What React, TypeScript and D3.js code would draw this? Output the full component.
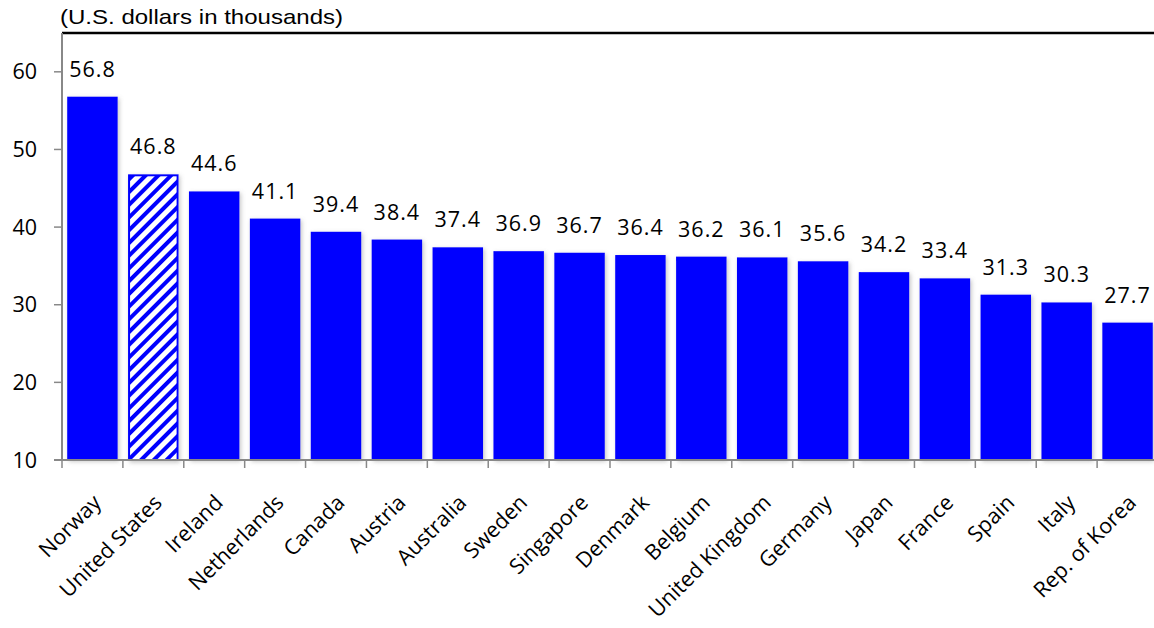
import React from "react";
import * as d3 from "d3";

const categories = ["Norway","United States","Ireland","Netherlands","Canada","Austria","Australia","Sweden","Singapore","Denmark","Belgium","United Kingdom","Germany","Japan","France","Spain","Italy","Rep. of Korea"];
const values = [56.8,46.8,44.6,41.1,39.4,38.4,37.4,36.9,36.7,36.4,36.2,36.1,35.6,34.2,33.4,31.3,30.3,27.7];
const highlighted = ["United States"];
const yTicks = [10,20,30,40,50,60];
const yDomain = [10,65];
const unitLabel = "(U.S. dollars in thousands)";

const W = 1154, H = 628;
const left = 62, right = 1158, top = 33, bottom = 460;
const font = "'Open Sans', sans-serif";

export default function App() {
  const x = d3.scaleBand<string>().domain(categories).range([left, right]).paddingInner(0.17).paddingOuter(0.085);
  const y = d3.scaleLinear().domain(yDomain).range([bottom, top]);
  const step = x.step();
  return (
    <svg width={W} height={H} style={{ position: "absolute", left: 0, top: 0, background: "#fff" }}>
      <defs>
        <pattern id="hatch" patternUnits="userSpaceOnUse" width="9" height="9" patternTransform="rotate(45)">
          <rect width="9" height="9" fill="#fff" />
          <rect x="0" y="0" width="4" height="9" fill="#0000ff" />
        </pattern>
        <filter id="shadow" x="-20%" y="-5%" width="140%" height="110%">
          <feDropShadow dx="1.5" dy="1.5" stdDeviation="2" floodColor="#808080" floodOpacity="0.45" />
        </filter>
      </defs>
      <text x={60} y={24} fontFamily="'Liberation Sans', Arial, sans-serif" fontSize={21} textLength={283} lengthAdjust="spacingAndGlyphs" fill="#000">{unitLabel}</text>
      <line x1={left} x2={W} y1={top} y2={top} stroke="#000" strokeWidth={2.5} />
      {categories.map((c, i) => {
        const v = values[i];
        const bx = x(c)!;
        const bw = x.bandwidth();
        const isH = highlighted.includes(c);
        return (
          <g key={c}>
            {isH ? (
              <rect x={bx + 1} y={y(v) + 1} width={bw - 2} height={bottom - y(v) - 1} fill="url(#hatch)" stroke="#0000ff" strokeWidth={2} filter="url(#shadow)" />
            ) : (
              <rect x={bx} y={y(v)} width={bw} height={bottom - y(v)} fill="#0000ff" filter="url(#shadow)" />
            )}
            <text x={bx + bw / 2} y={y(v) - 20} textAnchor="middle" fontFamily={font} fontSize={21.5} letterSpacing={1} fill="#000">{v.toFixed(1)}</text>
          </g>
        );
      })}
      {/* y axis */}
      <line x1={left} x2={left} y1={top} y2={bottom} stroke="#888" strokeWidth={2} />
      {yTicks.map(t => (
        <g key={t}>
          <line x1={left - 8} x2={left} y1={y(t)} y2={y(t)} stroke="#888" strokeWidth={1.5} />
          <text x={37} y={y(t) + 7.5} textAnchor="end" fontFamily={font} fontSize={21.5} fill="#000">{t}</text>
        </g>
      ))}
      {/* x axis */}
      <line x1={left - 8} x2={W} y1={bottom} y2={bottom} stroke="#888" strokeWidth={2} />
      {categories.map((c, i) => (
        <line key={"t" + c} x1={left + i * step} x2={left + i * step} y1={bottom} y2={bottom + 8} stroke="#888" strokeWidth={1.5} />
      ))}
      {categories.map(c => {
        const cx = x(c)! + x.bandwidth() / 2;
        return (
          <text key={"l" + c} transform={`translate(${cx + 10},${504}) rotate(-45)`} textAnchor="end" fontFamily={font} fontSize={21.5} fill="#000">{c}</text>
        );
      })}
    </svg>
  );
}
